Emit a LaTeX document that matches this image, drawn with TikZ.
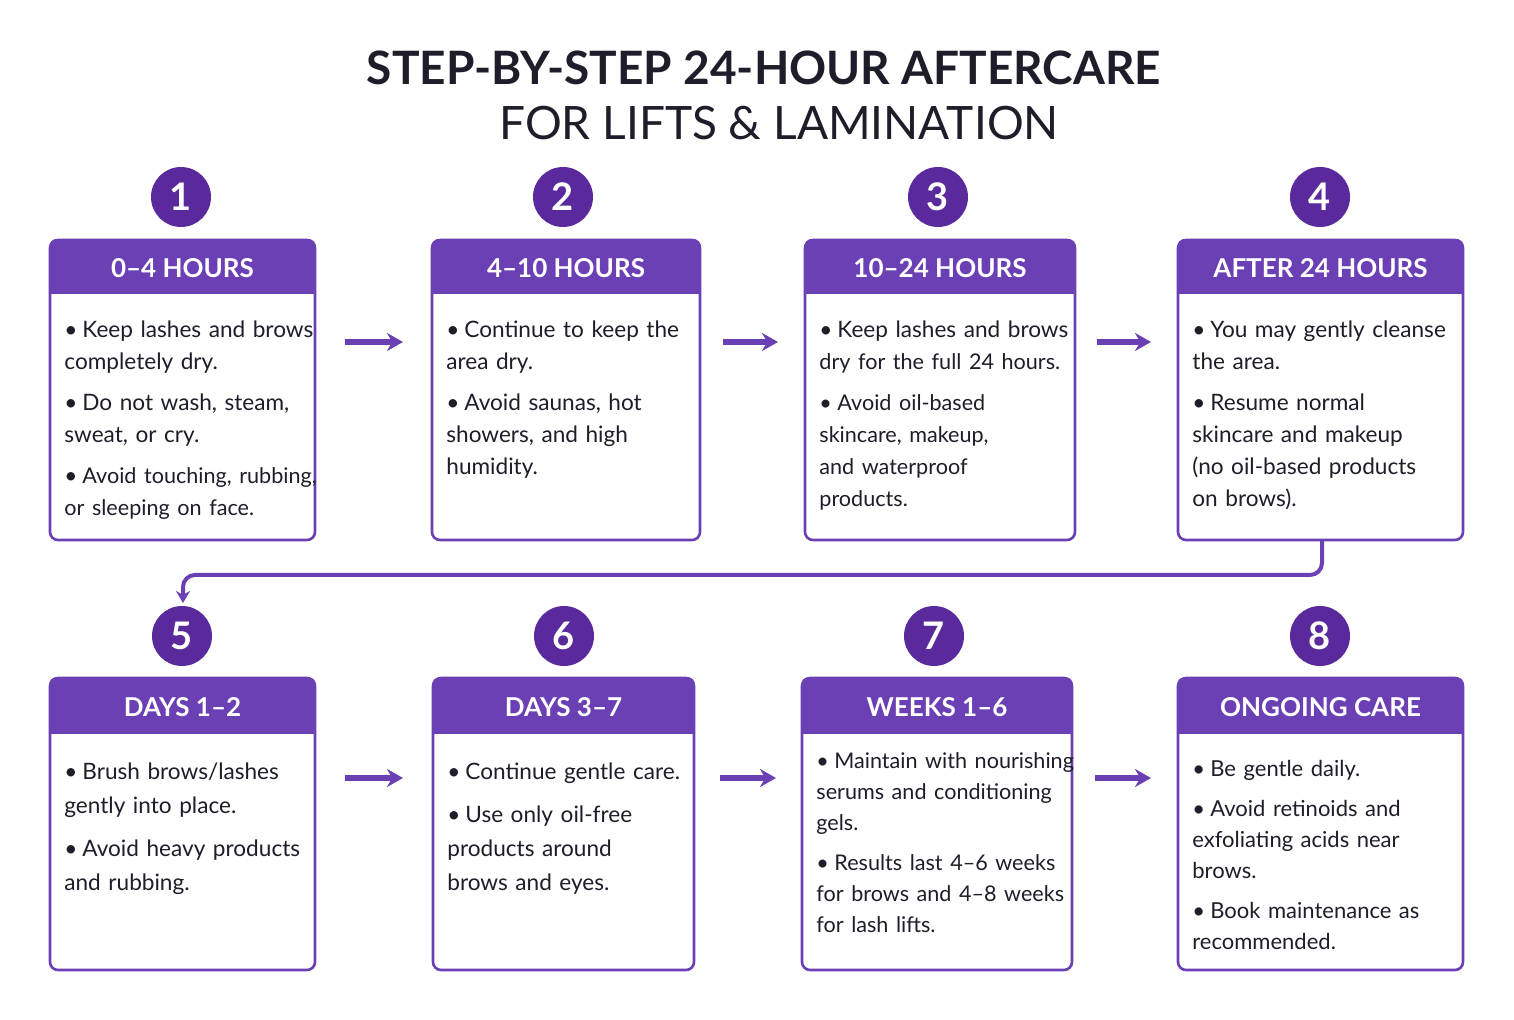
\documentclass[tikz,border=0pt]{standalone}
\usepackage{fontspec}
\setmainfont{Lato}
\usetikzlibrary{arrows.meta}
\definecolor{pur}{HTML}{6A40B4}
\definecolor{dpur}{HTML}{5A2A9C}
\definecolor{txt}{HTML}{1E1E2A}
\newcommand{\itm}[1]{\par\hangindent=9pt\hangafter=1\noindent\makebox[9pt][l]{\textbullet}#1\par\vspace{4.5pt}}
\tikzset{
  x=0.5pt,y=-0.5pt,
  box/.style={draw=pur,line width=1.3pt,rounded corners=4pt},
  hdr/.style={fill=pur,draw=pur,line width=1.3pt,rounded corners=4pt},
  htxt/.style={text=white,font=\bfseries\fontsize{13}{15}\selectfont},
  num/.style={circle,fill=dpur,minimum size=30pt,inner sep=0pt,text=white,font=\bfseries\fontsize{19}{20}\selectfont},
  body/.style={anchor=north west,inner sep=0pt,text=txt,align=left,font=\fontsize{11.3}{16}\selectfont},
  arr/.style={-{Stealth[length=8pt,width=9pt]},line width=2.6pt,draw=pur},
}
\newcommand{\card}[9]{% name, x1,y1,x2,y2,header y2, title, body width, body
  \draw[box,fill=white] (#2,#3) rectangle (#4,#5);
  \begin{scope}\clip (#2,#3) rectangle (#4,#6);
  \draw[hdr] (#2,#3) rectangle (#4,#5);\end{scope}
  \draw[pur,line width=1.3pt] (#2,#6) -- (#4,#6);
  \node[htxt] (#1h) at ({(#2+#4)/2},{(#3+#6+4)/2}) {#7};
  \node[body,text width=#8] (#1b) at ({#2+14},{#6+12}) {\hyphenpenalty=10000 #9};
}
\begin{document}
\begin{tikzpicture}
\useasboundingbox[fill=white] (0,0) rectangle (1514,1020);
\node[font=\bfseries\fontsize{23}{26}\selectfont,text=txt] (t1) at (764,68) {STEP-BY-STEP 24-HOUR AFTERCARE};
\node[font=\fontsize{23}{26}\selectfont,text=txt] (t2) at (779,123) {FOR LIFTS \& LAMINATION};

\node[num] (n1) at (181,197) {1};
\node[num] (n2) at (563,197) {2};
\node[num] (n3) at (938,197) {3};
\node[num] (n4) at (1320,197) {4};
\node[num] (n5) at (182,636) {5};
\node[num] (n6) at (564,636) {6};
\node[num] (n7) at (934,636) {7};
\node[num] (n8) at (1320,636) {8};

\card{c1}{50}{240}{315}{540}{293}{0–4 HOURS}{135pt}{\itm{Keep lashes and brows\\completely dry.}\itm{Do not wash, steam,\\sweat, or cry.}\itm{\fontsize{10.8}{16}\selectfont Avoid touching, rubbing,\\or sleeping on face.}}
\card{c2}{432}{240}{700}{540}{293}{4–10 HOURS}{128pt}{\itm{Continue to keep the\\area dry.}\itm{Avoid saunas, hot\\showers, and high\\humidity.}}
\card{c3}{805}{240}{1075}{540}{293}{10–24 HOURS}{135pt}{\itm{Keep lashes and brows\\\fontsize{10.8}{16}\selectfont dry for the full 24 hours.}\itm{Avoid oil-based\\skincare, makeup,\\and waterproof\\products.}}
\card{c4}{1178}{240}{1463}{540}{293}{AFTER 24 HOURS}{138pt}{\itm{You may gently cleanse\\the area.}\itm{Resume normal\\skincare and makeup\\(no oil-based products\\on brows).}}
\card{c5}{50}{678}{315}{970}{733}{DAYS 1–2}{128pt}{\fontsize{11.3}{17}\selectfont\itm{Brush brows/lashes\\gently into place.}\itm{Avoid heavy products\\and rubbing.}}
\card{c6}{433}{678}{694}{970}{733}{DAYS 3–7}{128pt}{\fontsize{11.3}{17}\selectfont\itm{Continue gentle care.}\itm{Use only oil-free\\products around\\brows and eyes.}}
\card{c7}{802}{678}{1072}{970}{733}{WEEKS 1–6}{132pt}{\fontsize{10.8}{15.5}\selectfont\vspace*{-4pt}\itm{Maintain with nourishing\\serums and conditioning\\gels.}\itm{Results last 4–6 weeks\\for brows and 4–8 weeks\\for lash lifts.}}
\card{c8}{1178}{678}{1463}{970}{733}{ONGOING CARE}{130pt}{\fontsize{11}{15.5}\selectfont\itm{Be gentle daily.}\itm{Avoid retinoids and\\exfoliating acids near\\brows.}\itm{Book maintenance as\\recommended.}}

\coordinate (a1s) at (345,342); \coordinate (a1e) at (403,342);
\coordinate (a2s) at (723,342); \coordinate (a2e) at (778,342);
\coordinate (a3s) at (1097,342); \coordinate (a3e) at (1151,342);
\coordinate (a4s) at (345,778); \coordinate (a4e) at (403,778);
\coordinate (a5s) at (720,778); \coordinate (a5e) at (776,778);
\coordinate (a6s) at (1095,778); \coordinate (a6e) at (1151,778);
\foreach \i in {1,...,6} \draw[arr] (a\i s) -- (a\i e);

\coordinate (k1) at (1322,540); \coordinate (k2) at (183,603);
\draw[pur,line width=2pt,rounded corners=6pt,-{Stealth[length=6pt,width=7pt]}] (k1) -- (1322,575) -- (183,575) -- (k2);
\end{tikzpicture}
\end{document}
